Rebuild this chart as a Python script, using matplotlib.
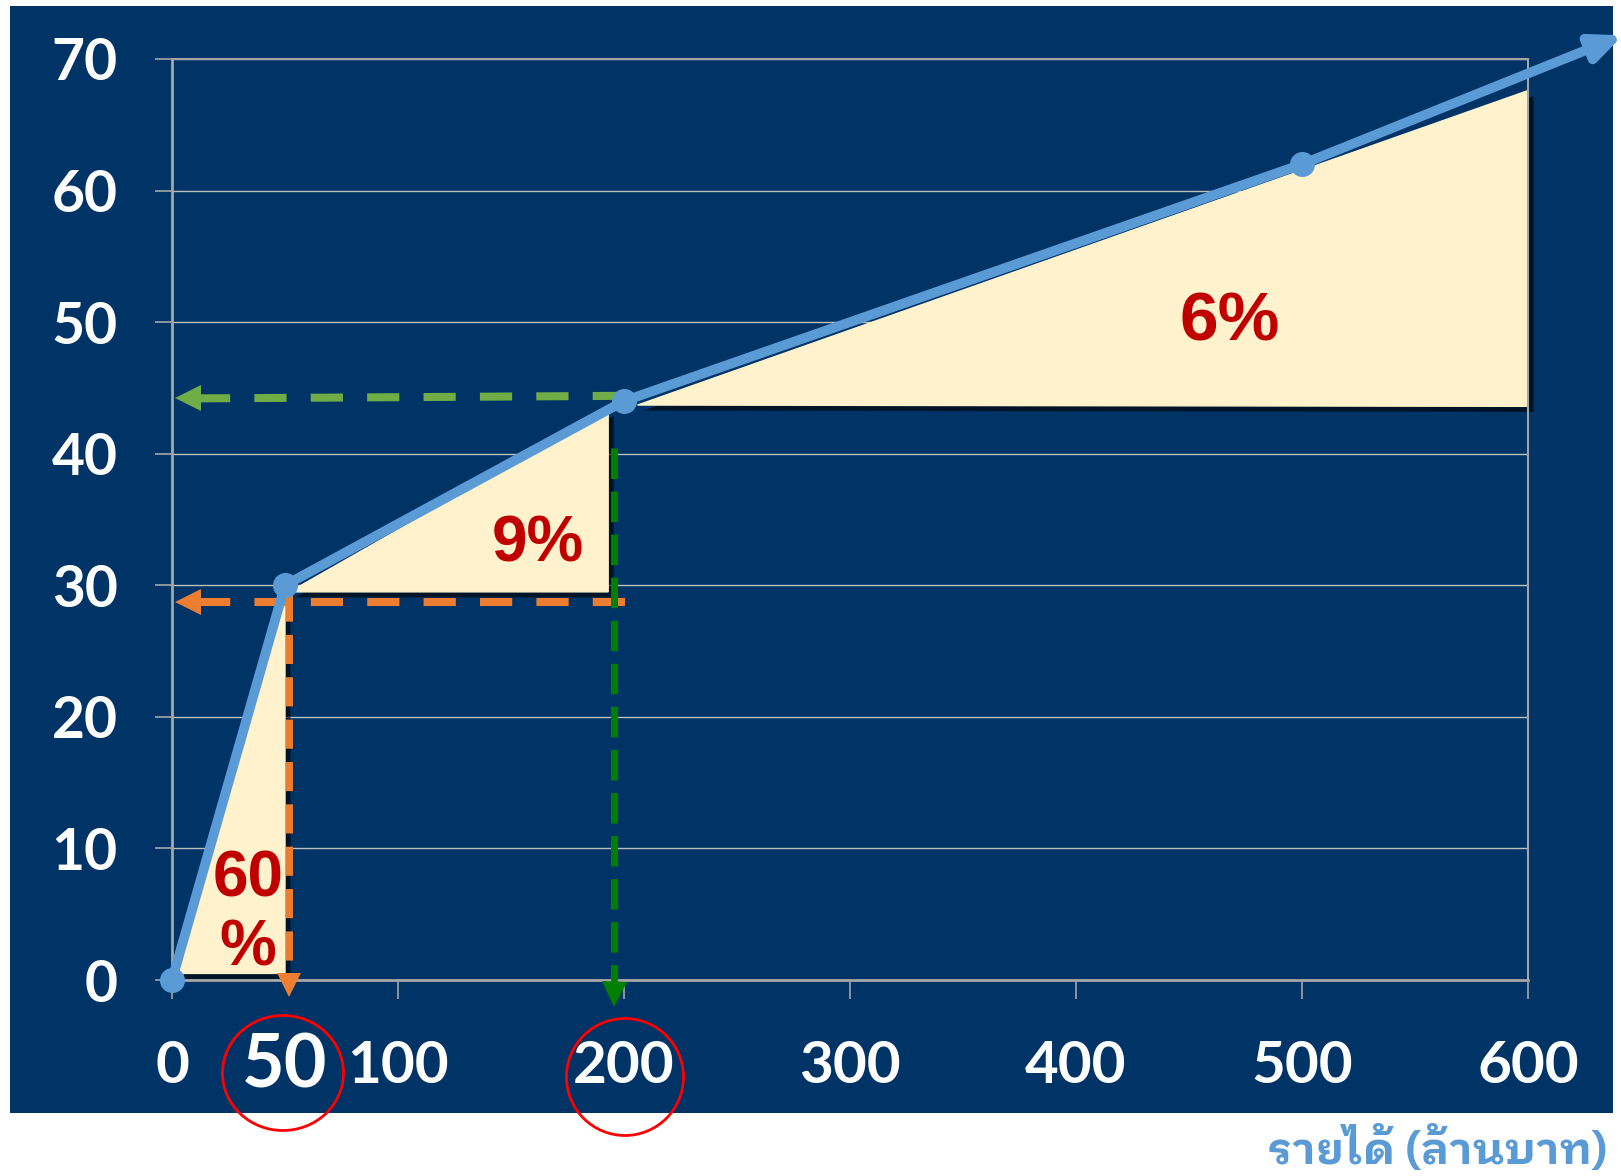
import matplotlib
matplotlib.use("Agg")
import matplotlib.pyplot as plt
import matplotlib.patheffects as pe
from matplotlib.patches import Rectangle, Ellipse

# main line: income (million baht) vs tax
income = [0, 50, 200, 500]
tax = [0, 30, 44, 62]
arrow_tip = (642, 71.8)

# shaded slope triangles
tri60_x = [2, 50, 50]
tri60_y = [0.5, 29.5, 0.5]
tri9_x = [52, 193, 193]
tri9_y = [29.5, 43.3, 29.5]
tri6_x = [206, 600, 600]
tri6_y = [43.7, 67.6, 43.6]

# guide arrows (start -> end of the dashed body)
orange_h = ([200.4, 7], [28.7, 28.7])
orange_v = ([51.8, 51.8], [29.5, -0.4])
green_h = ([200.4, 7], [44.4, 44.2])
green_v = ([195.6, 195.6], [40.4, -1.1])

x_ticks = [0, 100, 200, 300, 400, 500, 600]
y_ticks = [0, 10, 20, 30, 40, 50, 60, 70]

navy = "#003366"
blue = "#5B9BD5"
cream = "#FFF2CC"
red = "#C00000"
orange = "#ED7D31"
lgreen = "#70AD47"
dgreen = "#008000"
grey = "#A6A6A6"

W, H = 1621, 1176
fig = plt.figure(figsize=(W / 100, H / 100), dpi=100)
fig.add_artist(Rectangle((10 / W, 1 - 1113 / H), 1603 / W, 1107 / H,
                         transform=fig.transFigure, facecolor=navy,
                         edgecolor="none", zorder=-5))

ax = fig.add_axes([172 / W, 1 - 980 / H, (1528 - 172) / W, (980 - 59) / H])
ax.set_facecolor("none")
ax.set_xlim(0, 600)
ax.set_ylim(0, 70)

for side in ["left", "bottom"]:
    ax.spines[side].set_color(grey)
    ax.spines[side].set_linewidth(2)
for side in ["top", "right"]:
    ax.spines[side].set_color(grey)
    ax.spines[side].set_linewidth(1.5)
ax.yaxis.grid(True, color="#BFBFBF", lw=1)
ax.set_axisbelow(True)

tick_font = {"family": ["Lato", "DejaVu Sans"], "weight": "bold"}
ax.set_xticks(x_ticks, [str(v) for v in x_ticks], fontdict=tick_font)
ax.set_yticks(y_ticks, [str(v) for v in y_ticks], fontdict=tick_font)
ax.set_xticks([50], ["50"], minor=True, fontdict=tick_font)
ax.tick_params(axis="x", which="major", colors=grey, labelcolor="white",
               length=14, width=1.2, pad=29, labelsize=42)
ax.tick_params(axis="x", which="minor", length=0, pad=37,
               labelcolor="white", labelsize=53)
ax.tick_params(axis="y", colors=grey, labelcolor="white",
               length=12, width=1.2, pad=27, labelsize=41)

shadow = [pe.SimplePatchShadow(offset=(4, -4), shadow_rgbFace="black", alpha=0.6),
          pe.Normal()]
for xs, ys in [(tri60_x, tri60_y), (tri9_x, tri9_y), (tri6_x, tri6_y)]:
    poly = ax.fill(xs, ys, color=cream, zorder=2, clip_on=False)[0]
    poly.set_path_effects(shadow)

# dashed guide lines with heads
ax.plot(*orange_h, color=orange, lw=5.8, dashes=(4, 3), zorder=3,
        dash_capstyle="butt", clip_on=False)
ax.plot(orange_h[0][-1], orange_h[1][-1], marker="<", ms=19, color=orange,
        mew=0, zorder=3, clip_on=False)
ax.plot(*green_h, color=lgreen, lw=5.8, dashes=(4, 3), zorder=3,
        dash_capstyle="butt", clip_on=False)
ax.plot(green_h[0][-1], green_h[1][-1], marker="<", ms=19, color=lgreen,
        mew=0, zorder=3, clip_on=False)
ax.plot(*orange_v, color=orange, lw=5, dashes=(4.2, 1.9), zorder=3,
        dash_capstyle="butt", clip_on=False)
ax.plot(orange_v[0][-1], orange_v[1][-1], marker="v", ms=17,
        color=orange, mew=0, zorder=3, clip_on=False)
ax.plot(*green_v, color=dgreen, lw=5, dashes=(4.4, 1.8), zorder=3,
        dash_capstyle="butt", clip_on=False)
ax.plot(green_v[0][-1], green_v[1][-1], marker="v", ms=18,
        color=dgreen, mew=0, zorder=3, clip_on=False)

# main line
ax.plot(income, tax, color=blue, lw=7, marker="o", ms=17, zorder=5,
        clip_on=False, solid_joinstyle="round")
ax.annotate("", xy=arrow_tip, xytext=(income[-1], tax[-1]),
            arrowprops=dict(arrowstyle="-|>,head_length=1.8,head_width=0.8",
                            color=blue, lw=7, shrinkA=0, shrinkB=0),
            annotation_clip=False, zorder=5)

pct_font = {"family": ["Liberation Sans", "DejaVu Sans"], "weight": "bold"}
ax.text(468, 50.0, "6%", color=red, fontsize=50, ha="center", va="center",
        fontdict=pct_font, zorder=6)
ax.text(162, 33.1, "9%", color=red, fontsize=46, ha="center", va="center",
        fontdict=pct_font, zorder=6)
ax.text(33.7, 5.0, "60\n%", color=red, fontsize=46, ha="center", va="center",
        linespacing=1.2, fontdict=pct_font, zorder=6)

# red circles around 50 and 200
fig.add_artist(Ellipse((283 / W, 1 - 1073 / H), 121 / W, 115 / H,
                       transform=fig.transFigure, fill=False,
                       edgecolor="#FF0000", lw=2, zorder=10))
fig.add_artist(Ellipse((625 / W, 1 - 1077 / H), 117 / W, 117 / H,
                       transform=fig.transFigure, fill=False,
                       edgecolor="#FF0000", lw=2, zorder=10))

fig.text(1607 / W, 1 - 1150 / H, "รายได้ (ล้านบาท)", color=blue,
         fontsize=32, ha="right", va="center", weight="bold",
         family=["IBM Plex Sans Thai Looped", "DejaVu Sans"])

fig.savefig("out.png", dpi=100)
